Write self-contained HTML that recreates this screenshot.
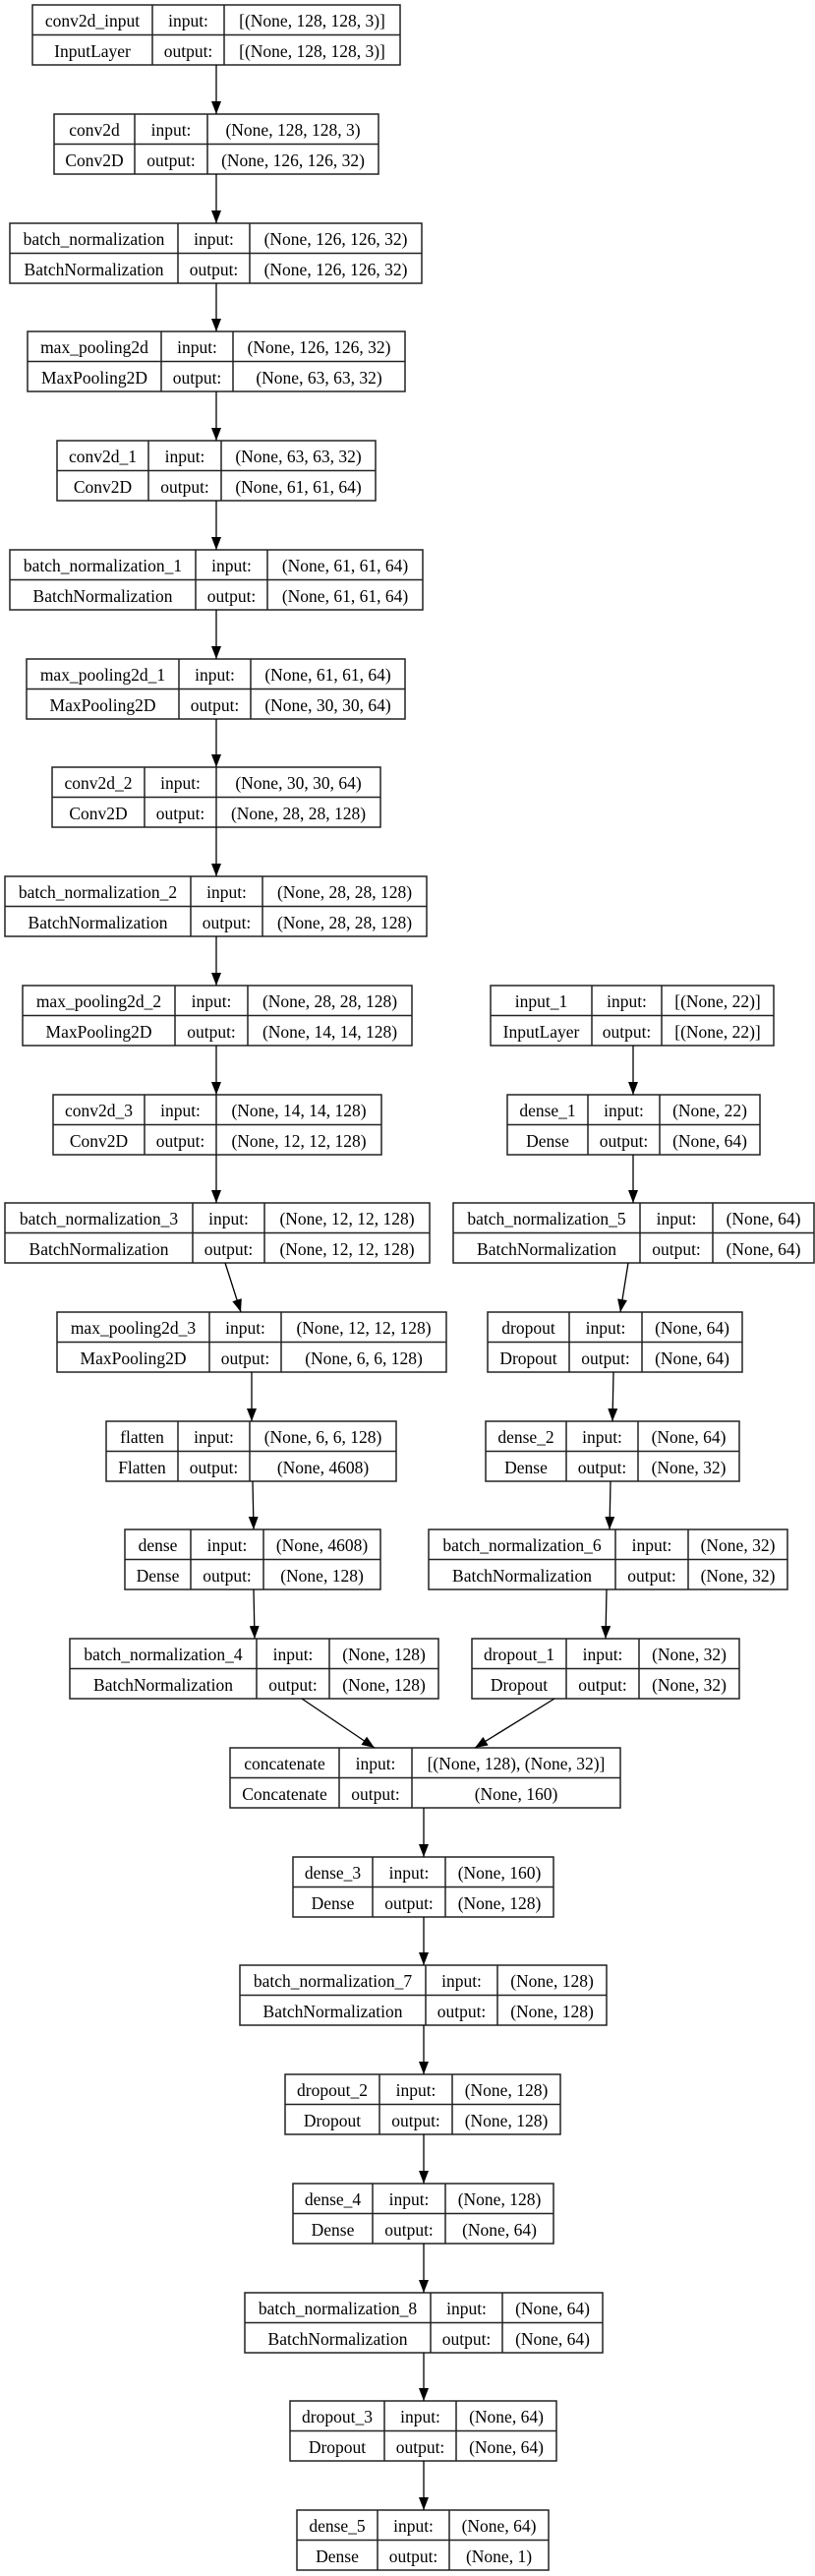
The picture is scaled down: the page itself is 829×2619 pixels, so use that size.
<!DOCTYPE html>
<html><head><meta charset="utf-8"><style>
html,body{margin:0;padding:0;background:#fff;}
svg{display:block;}
text{font-family:"Liberation Serif","Times New Roman",serif;font-size:17.5px;fill:#000;text-anchor:middle;}
rect,.d{fill:none;stroke:#222;stroke-width:1.5;}
.e{stroke:#000;stroke-width:1.3;}
</style></head><body>
<svg width="829" height="2619" viewBox="0 0 829 2619" xmlns="http://www.w3.org/2000/svg">
<defs><marker id="a" viewBox="0 0 13 10" refX="13" refY="5" markerWidth="13" markerHeight="10" markerUnits="userSpaceOnUse" orient="auto"><path d="M0,0 L13,5 L0,10 z" fill="#000"/></marker></defs>

<!-- boxes -->
<g>
<rect x="33" y="5" width="374" height="61"/><path class="d" d="M155,5V66M228,5V66M33,35.5H407"/>
<text x="94" y="27">conv2d_input</text><text x="94" y="58">InputLayer</text><text x="191.5" y="27">input:</text><text x="191.5" y="58">output:</text><text x="317.5" y="27">[(None, 128, 128, 3)]</text><text x="317.5" y="58">[(None, 128, 128, 3)]</text>

<rect x="55" y="116" width="330" height="61"/><path class="d" d="M137,116V177M211,116V177M55,146.5H385"/>
<text x="96" y="138">conv2d</text><text x="96" y="169">Conv2D</text><text x="174" y="138">input:</text><text x="174" y="169">output:</text><text x="298" y="138">(None, 128, 128, 3)</text><text x="298" y="169">(None, 126, 126, 32)</text>

<rect x="10" y="227" width="419" height="61"/><path class="d" d="M181,227V288M254,227V288M10,257.5H429"/>
<text x="95.5" y="249">batch_normalization</text><text x="95.5" y="280">BatchNormalization</text><text x="217.5" y="249">input:</text><text x="217.5" y="280">output:</text><text x="341.5" y="249">(None, 126, 126, 32)</text><text x="341.5" y="280">(None, 126, 126, 32)</text>

<rect x="28" y="337" width="384" height="61"/><path class="d" d="M164,337V398M237,337V398M28,367.5H412"/>
<text x="96" y="359">max_pooling2d</text><text x="96" y="390">MaxPooling2D</text><text x="200.5" y="359">input:</text><text x="200.5" y="390">output:</text><text x="324.5" y="359">(None, 126, 126, 32)</text><text x="324.5" y="390">(None, 63, 63, 32)</text>

<rect x="58" y="448" width="324" height="61"/><path class="d" d="M151,448V509M225,448V509M58,478.5H382"/>
<text x="104.5" y="470">conv2d_1</text><text x="104.5" y="501">Conv2D</text><text x="188" y="470">input:</text><text x="188" y="501">output:</text><text x="303.5" y="470">(None, 63, 63, 32)</text><text x="303.5" y="501">(None, 61, 61, 64)</text>

<rect x="10" y="559" width="420" height="61"/><path class="d" d="M199,559V620M272,559V620M10,589.5H430"/>
<text x="104.5" y="581">batch_normalization_1</text><text x="104.5" y="612">BatchNormalization</text><text x="235.5" y="581">input:</text><text x="235.5" y="612">output:</text><text x="351" y="581">(None, 61, 61, 64)</text><text x="351" y="612">(None, 61, 61, 64)</text>

<rect x="27" y="670" width="385" height="61"/><path class="d" d="M182,670V731M255,670V731M27,700.5H412"/>
<text x="104.5" y="692">max_pooling2d_1</text><text x="104.5" y="723">MaxPooling2D</text><text x="218.5" y="692">input:</text><text x="218.5" y="723">output:</text><text x="333.5" y="692">(None, 61, 61, 64)</text><text x="333.5" y="723">(None, 30, 30, 64)</text>

<rect x="53" y="780" width="334" height="61"/><path class="d" d="M147,780V841M220,780V841M53,810.5H387"/>
<text x="100" y="802">conv2d_2</text><text x="100" y="833">Conv2D</text><text x="183.5" y="802">input:</text><text x="183.5" y="833">output:</text><text x="303.5" y="802">(None, 30, 30, 64)</text><text x="303.5" y="833">(None, 28, 28, 128)</text>

<rect x="5" y="891" width="429" height="61"/><path class="d" d="M194,891V952M267,891V952M5,921.5H434"/>
<text x="99.5" y="913">batch_normalization_2</text><text x="99.5" y="944">BatchNormalization</text><text x="230.5" y="913">input:</text><text x="230.5" y="944">output:</text><text x="350.5" y="913">(None, 28, 28, 128)</text><text x="350.5" y="944">(None, 28, 28, 128)</text>

<rect x="23" y="1002" width="396" height="61"/><path class="d" d="M178,1002V1063M252,1002V1063M23,1032.5H419"/>
<text x="100.5" y="1024">max_pooling2d_2</text><text x="100.5" y="1055">MaxPooling2D</text><text x="215" y="1024">input:</text><text x="215" y="1055">output:</text><text x="335.5" y="1024">(None, 28, 28, 128)</text><text x="335.5" y="1055">(None, 14, 14, 128)</text>

<rect x="54" y="1113" width="334" height="61"/><path class="d" d="M147,1113V1174M220,1113V1174M54,1143.5H388"/>
<text x="100.5" y="1135">conv2d_3</text><text x="100.5" y="1166">Conv2D</text><text x="183.5" y="1135">input:</text><text x="183.5" y="1166">output:</text><text x="304" y="1135">(None, 14, 14, 128)</text><text x="304" y="1166">(None, 12, 12, 128)</text>

<rect x="5" y="1223" width="432" height="61"/><path class="d" d="M196,1223V1284M269,1223V1284M5,1253.5H437"/>
<text x="100.5" y="1245">batch_normalization_3</text><text x="100.5" y="1276">BatchNormalization</text><text x="232.5" y="1245">input:</text><text x="232.5" y="1276">output:</text><text x="353" y="1245">(None, 12, 12, 128)</text><text x="353" y="1276">(None, 12, 12, 128)</text>

<rect x="58" y="1334" width="396" height="61"/><path class="d" d="M213,1334V1395M286,1334V1395M58,1364.5H454"/>
<text x="135.5" y="1356">max_pooling2d_3</text><text x="135.5" y="1387">MaxPooling2D</text><text x="249.5" y="1356">input:</text><text x="249.5" y="1387">output:</text><text x="370" y="1356">(None, 12, 12, 128)</text><text x="370" y="1387">(None, 6, 6, 128)</text>

<rect x="108" y="1445" width="295" height="61"/><path class="d" d="M181,1445V1506M254,1445V1506M108,1475.5H403"/>
<text x="144.5" y="1467">flatten</text><text x="144.5" y="1498">Flatten</text><text x="217.5" y="1467">input:</text><text x="217.5" y="1498">output:</text><text x="328.5" y="1467">(None, 6, 6, 128)</text><text x="328.5" y="1498">(None, 4608)</text>

<rect x="127" y="1555" width="260" height="61"/><path class="d" d="M194,1555V1616M268,1555V1616M127,1585.5H387"/>
<text x="160.5" y="1577">dense</text><text x="160.5" y="1608">Dense</text><text x="231" y="1577">input:</text><text x="231" y="1608">output:</text><text x="327.5" y="1577">(None, 4608)</text><text x="327.5" y="1608">(None, 128)</text>

<rect x="71" y="1666" width="375" height="61"/><path class="d" d="M261,1666V1727M335,1666V1727M71,1696.5H446"/>
<text x="166" y="1688">batch_normalization_4</text><text x="166" y="1719">BatchNormalization</text><text x="298" y="1688">input:</text><text x="298" y="1719">output:</text><text x="390.5" y="1688">(None, 128)</text><text x="390.5" y="1719">(None, 128)</text>

<rect x="234" y="1777" width="397" height="61"/><path class="d" d="M345,1777V1838M419,1777V1838M234,1807.5H631"/>
<text x="289.5" y="1799">concatenate</text><text x="289.5" y="1830">Concatenate</text><text x="382" y="1799">input:</text><text x="382" y="1830">output:</text><text x="525" y="1799">[(None, 128), (None, 32)]</text><text x="525" y="1830">(None, 160)</text>

<rect x="298" y="1888" width="265" height="61"/><path class="d" d="M379,1888V1949M453,1888V1949M298,1918.5H563"/>
<text x="338.5" y="1910">dense_3</text><text x="338.5" y="1941">Dense</text><text x="416" y="1910">input:</text><text x="416" y="1941">output:</text><text x="508" y="1910">(None, 160)</text><text x="508" y="1941">(None, 128)</text>

<rect x="244" y="1998" width="373" height="61"/><path class="d" d="M433,1998V2059M506,1998V2059M244,2028.5H617"/>
<text x="338.5" y="2020">batch_normalization_7</text><text x="338.5" y="2051">BatchNormalization</text><text x="469.5" y="2020">input:</text><text x="469.5" y="2051">output:</text><text x="561.5" y="2020">(None, 128)</text><text x="561.5" y="2051">(None, 128)</text>

<rect x="290" y="2109" width="280" height="61"/><path class="d" d="M386,2109V2170M460,2109V2170M290,2139.5H570"/>
<text x="338" y="2131">dropout_2</text><text x="338" y="2162">Dropout</text><text x="423" y="2131">input:</text><text x="423" y="2162">output:</text><text x="515" y="2131">(None, 128)</text><text x="515" y="2162">(None, 128)</text>

<rect x="298" y="2220" width="265" height="61"/><path class="d" d="M379,2220V2281M453,2220V2281M298,2250.5H563"/>
<text x="338.5" y="2242">dense_4</text><text x="338.5" y="2273">Dense</text><text x="416" y="2242">input:</text><text x="416" y="2273">output:</text><text x="508" y="2242">(None, 128)</text><text x="508" y="2273">(None, 64)</text>

<rect x="249" y="2331" width="364" height="61"/><path class="d" d="M438,2331V2392M511,2331V2392M249,2361.5H613"/>
<text x="343.5" y="2353">batch_normalization_8</text><text x="343.5" y="2384">BatchNormalization</text><text x="474.5" y="2353">input:</text><text x="474.5" y="2384">output:</text><text x="562" y="2353">(None, 64)</text><text x="562" y="2384">(None, 64)</text>

<rect x="295" y="2441" width="271" height="61"/><path class="d" d="M391,2441V2502M464,2441V2502M295,2471.5H566"/>
<text x="343" y="2463">dropout_3</text><text x="343" y="2494">Dropout</text><text x="427.5" y="2463">input:</text><text x="427.5" y="2494">output:</text><text x="515" y="2463">(None, 64)</text><text x="515" y="2494">(None, 64)</text>

<rect x="302" y="2552" width="256" height="61"/><path class="d" d="M384,2552V2613M457,2552V2613M302,2582.5H558"/>
<text x="343" y="2574">dense_5</text><text x="343" y="2605">Dense</text><text x="420.5" y="2574">input:</text><text x="420.5" y="2605">output:</text><text x="507.5" y="2574">(None, 64)</text><text x="507.5" y="2605">(None, 1)</text>

<!-- right column -->
<rect x="499" y="1002" width="288" height="61"/><path class="d" d="M602,1002V1063M673,1002V1063M499,1032.5H787"/>
<text x="550.5" y="1024">input_1</text><text x="550.5" y="1055">InputLayer</text><text x="637.5" y="1024">input:</text><text x="637.5" y="1055">output:</text><text x="730" y="1024">[(None, 22)]</text><text x="730" y="1055">[(None, 22)]</text>

<rect x="516" y="1113" width="257" height="61"/><path class="d" d="M598,1113V1174M671,1113V1174M516,1143.5H773"/>
<text x="557" y="1135">dense_1</text><text x="557" y="1166">Dense</text><text x="634.5" y="1135">input:</text><text x="634.5" y="1166">output:</text><text x="722" y="1135">(None, 22)</text><text x="722" y="1166">(None, 64)</text>

<rect x="461" y="1223" width="367" height="61"/><path class="d" d="M651,1223V1284M725,1223V1284M461,1253.5H828"/>
<text x="556" y="1245">batch_normalization_5</text><text x="556" y="1276">BatchNormalization</text><text x="688" y="1245">input:</text><text x="688" y="1276">output:</text><text x="776.5" y="1245">(None, 64)</text><text x="776.5" y="1276">(None, 64)</text>

<rect x="496" y="1334" width="259" height="61"/><path class="d" d="M579,1334V1395M653,1334V1395M496,1364.5H755"/>
<text x="537.5" y="1356">dropout</text><text x="537.5" y="1387">Dropout</text><text x="616" y="1356">input:</text><text x="616" y="1387">output:</text><text x="704" y="1356">(None, 64)</text><text x="704" y="1387">(None, 64)</text>

<rect x="494" y="1445" width="258" height="61"/><path class="d" d="M576,1445V1506M649,1445V1506M494,1475.5H752"/>
<text x="535" y="1467">dense_2</text><text x="535" y="1498">Dense</text><text x="612.5" y="1467">input:</text><text x="612.5" y="1498">output:</text><text x="700.5" y="1467">(None, 64)</text><text x="700.5" y="1498">(None, 32)</text>

<rect x="436" y="1555" width="365" height="61"/><path class="d" d="M626,1555V1616M700,1555V1616M436,1585.5H801"/>
<text x="531" y="1577">batch_normalization_6</text><text x="531" y="1608">BatchNormalization</text><text x="663" y="1577">input:</text><text x="663" y="1608">output:</text><text x="750.5" y="1577">(None, 32)</text><text x="750.5" y="1608">(None, 32)</text>

<rect x="480" y="1666" width="272" height="61"/><path class="d" d="M576,1666V1727M650,1666V1727M480,1696.5H752"/>
<text x="528" y="1688">dropout_1</text><text x="528" y="1719">Dropout</text><text x="613" y="1688">input:</text><text x="613" y="1719">output:</text><text x="701" y="1688">(None, 32)</text><text x="701" y="1719">(None, 32)</text>
</g>

<!-- edges -->
<g class="e" marker-end="url(#a)">
<line class="e" x1="220" y1="66" x2="220" y2="116" marker-end="url(#a)"/>
<line class="e" x1="220" y1="177" x2="220" y2="227" marker-end="url(#a)"/>
<line class="e" x1="220" y1="288" x2="220" y2="337" marker-end="url(#a)"/>
<line class="e" x1="220" y1="398" x2="220" y2="448" marker-end="url(#a)"/>
<line class="e" x1="220" y1="509" x2="220" y2="559" marker-end="url(#a)"/>
<line class="e" x1="220" y1="620" x2="220" y2="670" marker-end="url(#a)"/>
<line class="e" x1="220" y1="731" x2="220" y2="780" marker-end="url(#a)"/>
<line class="e" x1="220" y1="841" x2="220" y2="891" marker-end="url(#a)"/>
<line class="e" x1="220" y1="952" x2="220" y2="1002" marker-end="url(#a)"/>
<line class="e" x1="220" y1="1063" x2="220" y2="1113" marker-end="url(#a)"/>
<line class="e" x1="220" y1="1174" x2="220" y2="1223" marker-end="url(#a)"/>
<line class="e" x1="229" y1="1284" x2="245" y2="1334" marker-end="url(#a)"/>
<line class="e" x1="256" y1="1395" x2="256" y2="1445" marker-end="url(#a)"/>
<line class="e" x1="257" y1="1506" x2="258" y2="1555" marker-end="url(#a)"/>
<line class="e" x1="258" y1="1616" x2="259" y2="1666" marker-end="url(#a)"/>
<line class="e" x1="307" y1="1727" x2="381" y2="1777" marker-end="url(#a)"/>
<line class="e" x1="564" y1="1727" x2="483" y2="1777" marker-end="url(#a)"/>
<line class="e" x1="431" y1="1838" x2="431" y2="1888" marker-end="url(#a)"/>
<line class="e" x1="431" y1="1949" x2="431" y2="1998" marker-end="url(#a)"/>
<line class="e" x1="431" y1="2059" x2="431" y2="2109" marker-end="url(#a)"/>
<line class="e" x1="431" y1="2170" x2="431" y2="2220" marker-end="url(#a)"/>
<line class="e" x1="431" y1="2281" x2="431" y2="2331" marker-end="url(#a)"/>
<line class="e" x1="431" y1="2392" x2="431" y2="2441" marker-end="url(#a)"/>
<line class="e" x1="431" y1="2502" x2="431" y2="2552" marker-end="url(#a)"/>
<line class="e" x1="644" y1="1063" x2="644" y2="1113" marker-end="url(#a)"/>
<line class="e" x1="644" y1="1174" x2="644" y2="1223" marker-end="url(#a)"/>
<line class="e" x1="639" y1="1284" x2="631" y2="1334" marker-end="url(#a)"/>
<line class="e" x1="624" y1="1395" x2="623" y2="1445" marker-end="url(#a)"/>
<line class="e" x1="621" y1="1506" x2="620" y2="1555" marker-end="url(#a)"/>
<line class="e" x1="617" y1="1616" x2="616" y2="1666" marker-end="url(#a)"/>
</g>
</svg>
</body></html>
